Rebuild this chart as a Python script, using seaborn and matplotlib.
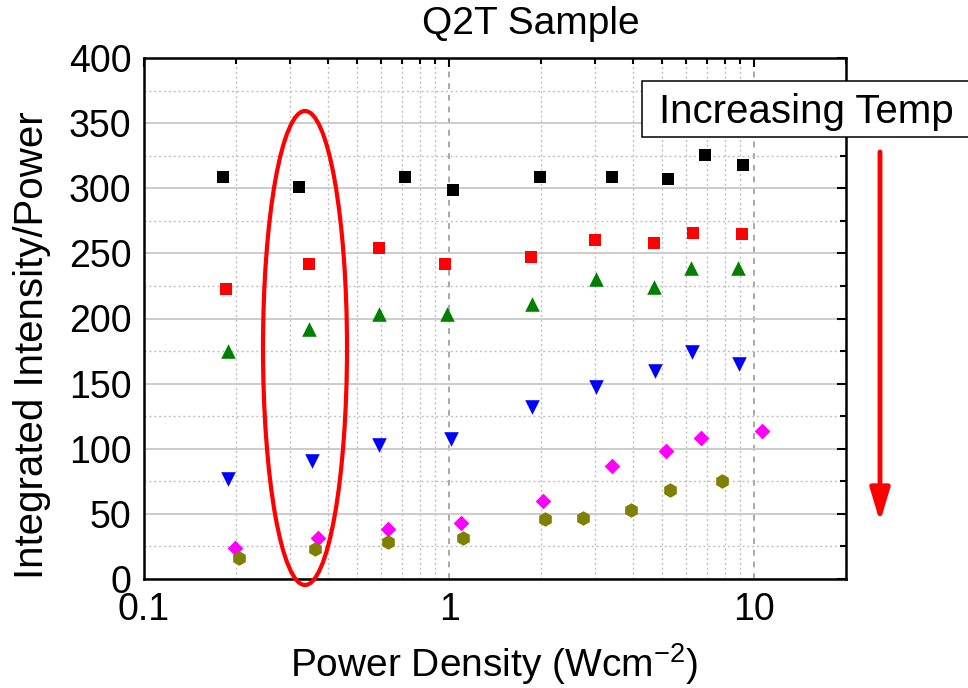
import matplotlib
matplotlib.use('Agg')
import matplotlib.pyplot as plt
import numpy as np
import pandas as pd
import seaborn as sns
from matplotlib.patches import Ellipse, Rectangle
from matplotlib.ticker import LogLocator, MultipleLocator, NullFormatter

# ---------------- data ----------------
x_black = [0.182, 0.322, 0.717, 1.033, 1.98, 3.42, 5.20, 6.92, 9.20]
y_black = [308.6, 301.0, 308.9, 298.7, 308.9, 308.4, 306.9, 325.3, 317.6]

x_red = [0.186, 0.347, 0.591, 0.970, 1.853, 3.01, 4.71, 6.28, 9.13]
y_red = [222.9, 241.8, 254.1, 242.1, 247.2, 260.0, 258.0, 265.6, 265.1]

x_green = [0.189, 0.348, 0.591, 0.985, 1.867, 3.04, 4.68, 6.23, 8.88]
y_green = [175.0, 191.7, 203.2, 203.2, 210.9, 230.1, 224.0, 239.0, 238.5]

x_blue = [0.189, 0.3545, 0.591, 1.013, 1.876, 3.03, 4.73, 6.25, 8.91]
y_blue = [76.5, 90.3, 102.9, 107.2, 131.8, 147.2, 159.7, 174.5, 165.3]

x_magenta = [0.198, 0.371, 0.631, 1.095, 2.033, 3.415, 5.16, 6.67, 10.62]
y_magenta = [23.8, 31.5, 38.4, 43.0, 59.7, 87.0, 98.3, 108.5, 113.6]

x_olive = [0.205, 0.363, 0.630, 1.109, 2.064, 2.757, 3.94, 5.29, 7.85]
y_olive = [16.1, 23.0, 28.2, 31.7, 45.8, 46.6, 53.2, 68.1, 75.0]

x_ticks = [0.1, 1, 10]
x_tick_labels = ['0.1', '1', '10']
y_ticks = [0, 50, 100, 150, 200, 250, 300, 350, 400]

title = 'Q2T Sample'
x_label = 'Power Density (Wcm$^{-2}$)'
y_label = 'Integrated Intensity/Power'
annot_text = 'Increasing Temp'

# ---------------- style ----------------
sns.set_style('white')
plt.rcParams['font.family'] = ['Liberation Sans', 'DejaVu Sans']
plt.rcParams['mathtext.default'] = 'regular'
plt.rcParams['text.color'] = 'black'
plt.rcParams['axes.labelcolor'] = 'black'
plt.rcParams['xtick.color'] = 'black'
plt.rcParams['ytick.color'] = 'black'

W, H = 968, 688
fig = plt.figure(figsize=(W / 100, H / 100), dpi=100)
L, R, T, B = 144, 846, 58, 579
ax = fig.add_axes([L / W, 1 - B / H, (R - L) / W, (B - T) / H])

series = [
    (x_black, y_black, '#000000', 's', 8.4),
    (x_red, y_red, '#ff0000', 's', 8.4),
    (x_green, y_green, '#008000', '^', 10.5),
    (x_blue, y_blue, '#0000ff', 'v', 10.5),
    (x_magenta, y_magenta, '#ff00ff', 'D', 8.0),
    (x_olive, y_olive, '#808000', 'h', 10.5),
]
for xs, ys, color, marker, msize in series:
    df = pd.DataFrame({'x': xs, 'y': ys})
    sns.scatterplot(data=df, x='x', y='y', ax=ax, color=color, marker=marker,
                    s=msize ** 2, linewidth=0, zorder=4, clip_on=False)

ax.set_xscale('log')
ax.set_xlim(0.1, 20)
ax.set_ylim(0, 400)
ax.set_xticks(x_ticks, labels=x_tick_labels)
ax.xaxis.set_minor_locator(LogLocator(base=10, subs=np.arange(2, 10)))
ax.xaxis.set_minor_formatter(NullFormatter())
ax.set_yticks(y_ticks)
ax.yaxis.set_minor_locator(MultipleLocator(25))

ax.grid(which='major', axis='y', color='#c8c8c8', lw=1.3, ls='-', zorder=0)
ax.grid(which='minor', axis='y', color='#c0c0c0', lw=1.0, ls=(0, (1.5, 2)), zorder=0)
ax.grid(which='minor', axis='x', color='#c0c0c0', lw=1.0, ls=(0, (1.5, 2)), zorder=0)
ax.grid(which='major', axis='x', color='#a8a8a8', lw=1.4, ls=(0, (3, 3)), zorder=0)
ax.set_axisbelow(True)

ax.tick_params(which='both', direction='in', top=True, right=True,
               width=1.5, color='black', labelcolor='black', labelsize=27)
ax.tick_params(which='major', length=6.5)
ax.tick_params(which='minor', length=4)
ax.tick_params(axis='y', pad=9)
ax.tick_params(axis='x', pad=9)
for sp in ax.spines.values():
    sp.set_linewidth(1.8)
    sp.set_color('black')

ax.set_xlabel(x_label, fontsize=28, color='black')
ax.xaxis.set_label_coords((494 - L) / (R - L), (B - 677) / (B - T))
ax.xaxis.label.set_verticalalignment('baseline')

ax.set_ylabel(y_label, fontsize=29, color='black')
ax.yaxis.set_label_coords((43 - L) / (R - L), (B - 345) / (B - T))
ax.yaxis.label.set_verticalalignment('baseline')

ax.set_title(title, fontsize=28, color='black', x=(531 - L) / (R - L),
             y=(B - 34) / (B - T), va='baseline', pad=0)

# red ellipse (axes coordinates)
ell = Ellipse(((305 - L) / (R - L), (B - 348) / (B - T)),
              84 / (R - L), 474 / (B - T), transform=ax.transAxes,
              fill=False, edgecolor='red', lw=3.0, clip_on=False, zorder=6)
ax.add_patch(ell)

# text box
rect = Rectangle((642 / W, 1 - 137 / H), (1000 - 642) / W, 56 / H,
                 transform=fig.transFigure, facecolor='white',
                 edgecolor='black', lw=1.1, zorder=10)
fig.add_artist(rect)
fig.text(659 / W, 1 - 123 / H, annot_text, fontsize=29, ha='left',
         va='baseline', color='black', zorder=11)

# red arrow
ax.annotate('', xy=(880 / W, 1 - 522 / H), xytext=(880 / W, 1 - 152 / H),
            xycoords='figure fraction', textcoords='figure fraction',
            arrowprops=dict(arrowstyle='-|>,head_length=1.0,head_width=0.3',
                            color='red', lw=3.5, mutation_scale=20,
                            shrinkA=0, shrinkB=0),
            annotation_clip=False)

fig.savefig('out.png', dpi=100)
